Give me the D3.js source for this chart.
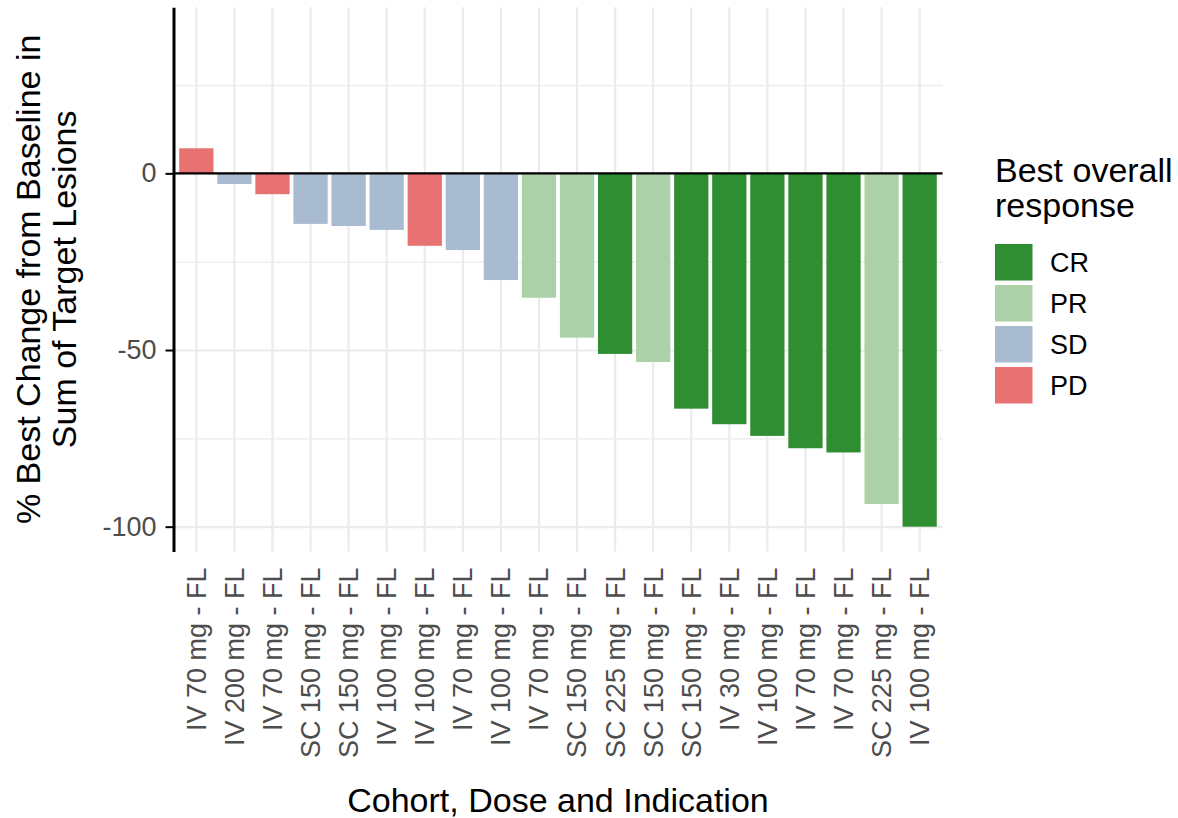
<!DOCTYPE html>
<html>
<head>
<meta charset="utf-8">
<script src="https://cdn.jsdelivr.net/npm/d3@7"></script>
<style>
  body { margin: 0; background: #fff; }
  text { font-family: "Liberation Sans", Arial, sans-serif; }
</style>
</head>
<body>
<script>
// patients, ordered by best change
var cohorts = ["IV 70 mg - FL", "IV 200 mg - FL", "IV 70 mg - FL", "SC 150 mg - FL", "SC 150 mg - FL",
  "IV 100 mg - FL", "IV 100 mg - FL", "IV 70 mg - FL", "IV 100 mg - FL", "IV 70 mg - FL",
  "SC 150 mg - FL", "SC 225 mg - FL", "SC 150 mg - FL", "SC 150 mg - FL", "IV 30 mg - FL",
  "IV 100 mg - FL", "IV 70 mg - FL", "IV 70 mg - FL", "SC 225 mg - FL", "IV 100 mg - FL"];
var change = [7.1, -3.0, -5.9, -14.3, -14.9, -16.0, -20.5, -21.7, -30.2, -35.2,
  -46.5, -51.1, -53.4, -66.6, -71.0, -74.3, -77.8, -79.0, -93.6, -100];
var response = ["PD", "SD", "PD", "SD", "SD", "SD", "PD", "SD", "SD", "PR",
  "PR", "CR", "PR", "CR", "CR", "CR", "CR", "CR", "PR", "CR"];
var responseLevels = ["CR", "PR", "SD", "PD"];
var responseColors = ["#2f8d32", "#acd1a8", "#a9bbd1", "#e87272"];
var yMajor = [0, -50, -100];
var yMinor = [25, -25, -75];

var W = 1178, H = 818;
var pLeft = 173.5, pRight = 942.5, pTop = 7.3, pBottom = 551.4;

var svg = d3.select("body").append("svg")
  .attr("width", W)
  .attr("height", H);
svg.append("rect").attr("width", W).attr("height", H).attr("fill", "#fff");

var x = d3.scaleBand()
  .domain(d3.range(cohorts.length))
  .range([pLeft, pRight])
  .paddingInner(0.1)
  .paddingOuter(0.15);
var y = d3.scaleLinear()
  .domain([-107, 47])
  .range([pBottom, pTop]);
var color = d3.scaleOrdinal().domain(responseLevels).range(responseColors);

// grid
var grid = svg.append("g");
grid.append("g")
  .attr("transform", "translate(" + pLeft + ",0)")
  .call(d3.axisLeft(y).tickValues(yMinor).tickSize(-(pRight - pLeft)).tickFormat(""))
  .call(function (g) { g.select(".domain").remove(); })
  .selectAll("line").attr("stroke", "#ebebeb").attr("stroke-width", 1.3);
grid.append("g")
  .attr("transform", "translate(" + pLeft + ",0)")
  .call(d3.axisLeft(y).tickValues(yMajor).tickSize(-(pRight - pLeft)).tickFormat(""))
  .call(function (g) { g.select(".domain").remove(); })
  .selectAll("line").attr("stroke", "#ebebeb").attr("stroke-width", 2.2);
grid.append("g")
  .attr("transform", "translate(0," + pBottom + ")")
  .call(d3.axisBottom(x).tickSize(-(pBottom - pTop)).tickFormat(""))
  .call(function (g) { g.select(".domain").remove(); })
  .selectAll("line").attr("stroke", "#ebebeb").attr("stroke-width", 2.2);

// bars
svg.append("g").selectAll("rect")
  .data(change)
  .enter().append("rect")
  .attr("x", function (d, i) { return x(i); })
  .attr("width", x.bandwidth())
  .attr("y", function (d) { return y(Math.max(0, d)); })
  .attr("height", function (d) { return Math.abs(y(d) - y(0)); })
  .attr("fill", function (d, i) { return color(response[i]); });

// zero line
svg.append("line")
  .attr("x1", pLeft).attr("x2", pRight)
  .attr("y1", y(0)).attr("y2", y(0))
  .attr("stroke", "#000").attr("stroke-width", 2.2);

// y axis
var yAxis = svg.append("g")
  .attr("transform", "translate(" + pLeft + ",0)")
  .call(d3.axisLeft(y).tickValues(yMajor).tickSize(8).tickSizeOuter(0).tickPadding(9)
    .tickFormat(function (d) { return String(d); }));
yAxis.select(".domain").attr("stroke", "#000").attr("stroke-width", 3);
yAxis.selectAll(".tick line").attr("stroke", "#000").attr("stroke-width", 2);
yAxis.selectAll(".tick text")
  .attr("font-size", 27).attr("fill", "#4d4d4d")
  .style("font-family", "Liberation Sans, Arial, sans-serif");

// x axis labels
var xAxis = svg.append("g")
  .attr("transform", "translate(0," + pBottom + ")")
  .call(d3.axisBottom(x).tickSize(0).tickPadding(0).tickFormat(function (i) { return cohorts[i]; }));
xAxis.select(".domain").remove();
xAxis.selectAll(".tick text")
  .attr("font-size", 27).attr("fill", "#4d4d4d")
  .style("font-family", "Liberation Sans, Arial, sans-serif")
  .attr("text-anchor", "end")
  .attr("transform", "rotate(-90)")
  .attr("x", -16).attr("y", 0).attr("dy", "0.35em");

// axis titles
svg.append("text")
  .attr("x", (pLeft + pRight) / 2).attr("y", 812)
  .attr("text-anchor", "middle").attr("font-size", 34).attr("fill", "#000")
  .text("Cohort, Dose and Indication");
var yt = svg.append("text")
  .attr("transform", "translate(0," + ((pTop + pBottom) / 2) + ") rotate(-90)")
  .attr("text-anchor", "middle").attr("font-size", 34).attr("fill", "#000");
yt.append("tspan").attr("x", 0).attr("y", 40).text("% Best Change from Baseline in");
yt.append("tspan").attr("x", 0).attr("y", 76).text("Sum of Target Lesions");

// legend
var lg = svg.append("g").attr("transform", "translate(995,0)");
lg.append("text").attr("x", 0).attr("y", 182).attr("font-size", 34).text("Best overall");
lg.append("text").attr("x", 0).attr("y", 217).attr("font-size", 34).text("response");
var items = lg.selectAll("g.item")
  .data(responseLevels)
  .enter().append("g")
  .attr("class", "item")
  .attr("transform", function (d, i) { return "translate(0," + (244 + i * 41) + ")"; });
items.append("rect")
  .attr("width", 37.5).attr("height", 36.5)
  .attr("fill", function (d) { return color(d); });
items.append("text")
  .attr("x", 55).attr("y", 18.25).attr("dy", "0.35em")
  .attr("font-size", 27).attr("fill", "#000")
  .text(function (d) { return d; });
</script>
</body>
</html>
